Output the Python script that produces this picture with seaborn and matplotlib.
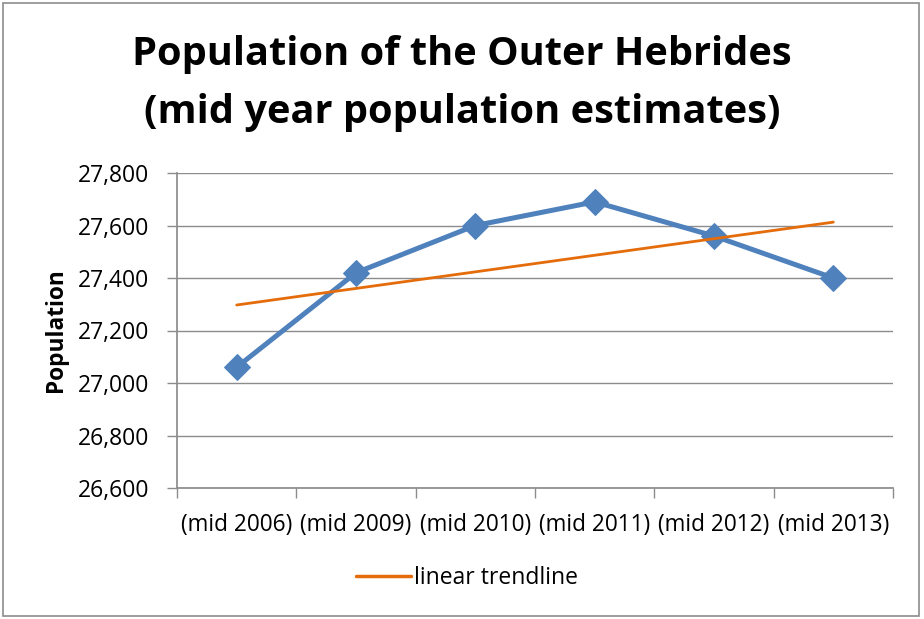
import numpy as np
import pandas as pd
import matplotlib
matplotlib.use("Agg")
import matplotlib.pyplot as plt
import seaborn as sns
from matplotlib.lines import Line2D
from matplotlib.patches import Rectangle
from matplotlib.ticker import FuncFormatter, FixedLocator

categories = ["(mid 2006)", "(mid 2009)", "(mid 2010)", "(mid 2011)", "(mid 2012)", "(mid 2013)"]
population = [27060, 27420, 27600, 27690, 27560, 27400]
y_ticks = [26600, 26800, 27000, 27200, 27400, 27600, 27800]

sns.set_theme(style="white")
plt.rcParams['font.family'] = ['Open Sans', 'DejaVu Sans']
plt.rcParams['text.color'] = 'black'
plt.rcParams['axes.labelcolor'] = 'black'

df = pd.DataFrame({"x": np.arange(len(categories)), "Population": population})

fig = plt.figure(figsize=(9.24, 6.19), dpi=100)
ax = fig.add_axes([177/924, 1 - 488/619, (893-177)/924, (488-173)/619])

grid_c = "#8C8C8C"
for t in y_ticks:
    ax.axhline(t, color=grid_c, lw=1.0, zorder=0)

sns.lineplot(data=df, x="x", y="Population", ax=ax, color="#4F81BD", lw=3.6,
             marker="D", markersize=13, markeredgecolor="#4F81BD", zorder=3)
sns.regplot(data=df, x="x", y="Population", ax=ax, scatter=False, ci=None, truncate=True,
            line_kws=dict(color="#E46C0A", lw=2.0, zorder=4))

ax.set_xlim(-0.5, len(categories) - 0.5)
ax.set_ylim(y_ticks[0], y_ticks[-1])
ax.set_yticks(y_ticks)
ax.yaxis.set_major_formatter(FuncFormatter(lambda v, p: f"{int(v):,}"))
ax.set_xticks(np.arange(len(categories)))
ax.set_xticklabels(categories)
ax.xaxis.set_minor_locator(FixedLocator(np.arange(-0.5, len(categories), 1.0)))
ax.tick_params(axis="x", which="major", length=0, pad=18, labelsize=16.3, labelcolor="black")
ax.tick_params(axis="x", which="minor", length=7, width=1, color=grid_c, bottom=True)
ax.tick_params(axis="y", length=7, width=1, color=grid_c, left=True, labelsize=16.5, pad=13, labelcolor="black")
for s in ["top", "right"]:
    ax.spines[s].set_visible(False)
ax.spines["left"].set_color(grid_c)
ax.spines["bottom"].set_color(grid_c)
ax.set_xlabel("")
ax.set_ylabel("Population", fontsize=16.3, fontweight="bold", color="black")
ax.yaxis.set_label_coords(-0.152, 0.5)

fig.text(0.5, 1 - 55/619, "Population of the Outer Hebrides", ha="center", va="center",
         fontsize=28.6, fontweight="bold", color="black")
fig.text(0.5, 1 - 113/619, "(mid year population estimates)", ha="center", va="center",
         fontsize=28.6, fontweight="bold", color="black")

handle = Line2D([], [], color="#E46C0A", lw=2.5)
fig.legend([handle], ["linear trendline"], loc="center", bbox_to_anchor=(467/924, 1 - 578/619),
           frameon=False, fontsize=16.5, handlelength=2.4, handletextpad=0.15,
           labelcolor="black")

fig.patches.append(Rectangle((3/924, 3/619), 916/924, 613/619, transform=fig.transFigure,
                             fill=False, edgecolor="#8C8C8C", lw=1.2))

fig.savefig("out.png", dpi=100)
